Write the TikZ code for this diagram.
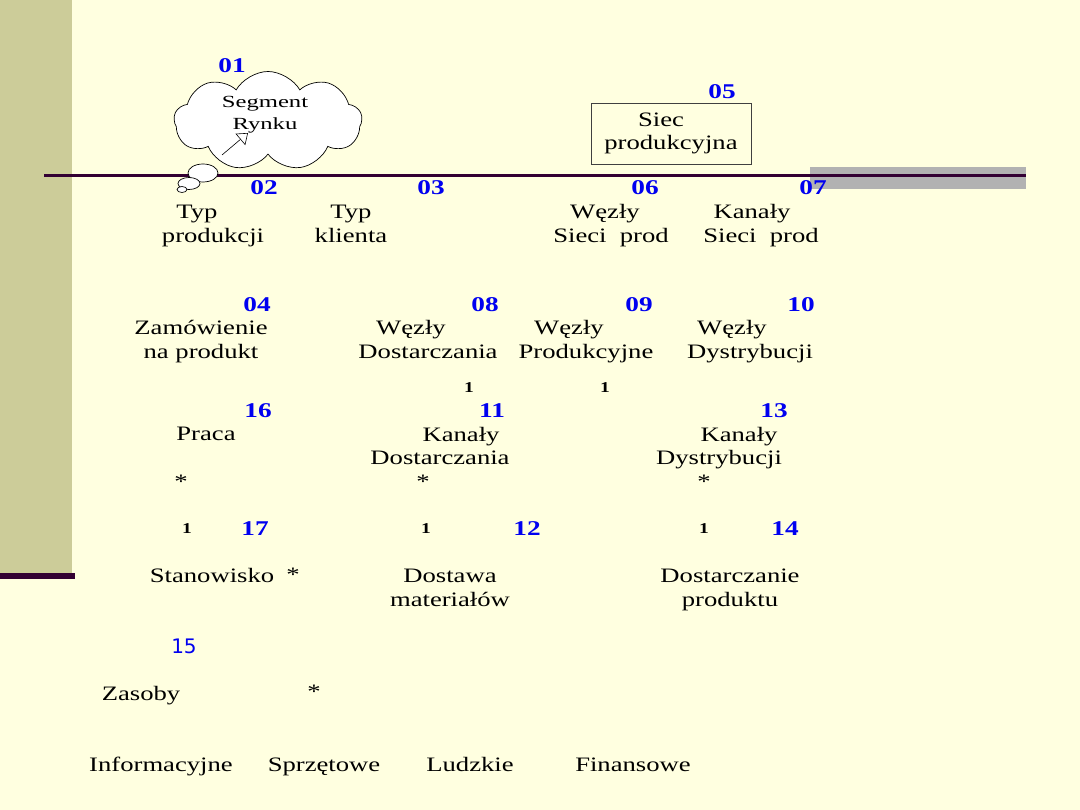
\documentclass[tikz,border=0pt]{standalone}
\usepackage{fontspec}
\setmainfont{Liberation Serif}[FakeStretch=1.3]
\newfontfamily\cloudfont{Liberation Serif}[FakeStretch=1.45]
\newfontfamily\sansnum{DejaVu Sans}
\usepackage{xcolor}
\usepackage{tikz}
\usetikzlibrary{shapes.symbols, arrows.meta}

\definecolor{tlo}{HTML}{FFFFE0}
\definecolor{pasek}{HTML}{CCCC99}
\definecolor{fiolet}{HTML}{330033}
\definecolor{szary}{HTML}{B2B2B2}
\definecolor{nrblue}{HTML}{0000F0}

\newcommand{\tail}[1]{\rule{#1}{0pt}}

% base = linia bazowa ostatniego wiersza
\tikzset{
  txt/.style={inner sep=0pt, align=center, anchor=base, font=\fontsize{20.5}{23.5}\selectfont},
  nr/.style={inner sep=0pt, font=\fontsize{21}{24}\selectfont\bfseries, text=nrblue},
  jeden/.style={inner sep=0pt, font=\fontsize{15}{18}\selectfont\bfseries},
  gw/.style={inner sep=0pt, font=\fontsize{20.5}{24}\selectfont},
}

\begin{document}
\begin{tikzpicture}[x=1pt, y=-1pt, >=latex]
    % tło slajdu
    \fill[tlo] (0,0) rectangle (1080,810);
    \fill[pasek] (0,0) rectangle (72,575);
    \fill[fiolet] (0,573) rectangle (75,579);
    
    % linia pozioma
    \fill[szary] (810,167) rectangle (1026,189);
    \draw[fiolet, line width=3pt] (44,176) -- (1026,176);
    
    % chmurka: Segment Rynku
    \node[nr] (n01) at (232,66) {01};
    \node[cloud, draw, fill=white, line width=0.7pt, cloud puffs=9, cloud puff arc=120,
          cloud ignores aspect, minimum width=188pt, minimum height=99pt, inner sep=0pt]
          (chmura) at (268,121) {};
    \draw[fill=white, line width=0.7pt] (203,173) ellipse [x radius=15pt, y radius=9pt];
    \draw[fill=white, line width=0.7pt] (189,183.5) ellipse [x radius=11pt, y radius=6pt];
    \draw[fill=white, line width=0.7pt] (182,189.5) ellipse [x radius=5pt, y radius=3pt];
    \node[inner sep=0pt, align=center, font=\cloudfont\fontsize{17}{22}\selectfont]
          (segment) at (265,115) {Segment\\Rynku};
    \coordinate (strz1) at (222,155);
    \coordinate (strz2) at (248,133);
    \draw[-{Triangle[open, length=10pt, width=15pt]}, line width=0.6pt] (strz1) -- (strz2);
    
    % Siec produkcyjna
    \node[nr] (n05) at (722,92) {05};
    \node[txt, anchor=center, draw=black!75, line width=0.7pt, minimum width=160pt, minimum height=61pt]
          (siec) at (671,133.5) {Siec\tail{20pt}\\produkcyjna};
    
    % pod linią
    \node[nr] (n02) at (264,188) {02};
    \node[nr] (n03) at (431,188) {03};
    \node[nr] (n06) at (645,188) {06};
    \node[nr] (n07) at (813,188) {07};
    \node[txt] (typprod) at (213,242.5) {Typ\tail{32pt}\\produkcji};
    \node[txt] (typkl) at (351,242.5) {Typ\\klienta};
    \node[txt] (wezsieci) at (611,242.5) {Węzły\tail{12pt}\\Sieci\ \ prod};
    \node[txt] (kansieci) at (761,242.5) {Kanały\tail{18pt}\\Sieci\ \ prod};
    
    % węzły
    \node[nr] (n04) at (257,305) {04};
    \node[nr] (n08) at (485,305) {08};
    \node[nr] (n09) at (639,305) {09};
    \node[nr] (n10) at (801,305) {10};
    \node[txt] (zamow) at (201,358.5) {Zamówienie\\na produkt};
    \node[txt] (wezdost) at (428,358.5) {Węzły\tail{34pt}\\Dostarczania};
    \node[txt] (wezprod) at (586,358.5) {Węzły\tail{34pt}\\Produkcyjne};
    \node[txt] (wezdys) at (750,358.5) {Węzły\tail{36pt}\\Dystrybucji};
    \node[jeden] (j1) at (469,388) {1};
    \node[jeden] (j2) at (605,388) {1};
    
    % kanały
    \node[nr] (n16) at (258,411) {16};
    \node[nr] (n11) at (492,411) {11};
    \node[nr] (n13) at (774,411) {13};
    \node[txt] (praca) at (206,441) {Praca};
    \node[txt] (kandost) at (440,464.5) {\tail{42pt}Kanały\\Dostarczania};
    \node[txt] (kandys) at (719,464.5) {\tail{40pt}Kanały\\Dystrybucji};
    \node[gw] (g1) at (181,482) {*};
    \node[gw] (g2) at (423,482) {*};
    \node[gw] (g3) at (704,482) {*};
    
    % stanowisko, dostawa, dostarczanie
    \node[jeden] (j3) at (187,529) {1};
    \node[jeden] (j4) at (426,529) {1};
    \node[jeden] (j5) at (704,529) {1};
    \node[nr] (n17) at (255,529) {17};
    \node[nr] (n12) at (527,529) {12};
    \node[nr] (n14) at (785,529) {14};
    \node[txt] (stanow) at (212,582.7) {Stanowisko};
    \node[gw] (g4) at (293,575) {*};
    \node[txt] (dostawa) at (450,606.2) {Dostawa\\materiałów};
    \node[txt] (dostprod) at (730,606.2) {Dostarczanie\\produktu};
    
    % zasoby
    \node[inner sep=0pt, font=\sansnum\fontsize{20}{24}\selectfont, text=nrblue] (n15) at (184,646) {15};
    \node[txt] (zasoby) at (141,700) {Zasoby};
    \node[gw] (g5) at (314,692) {*};
    \node[txt] (inform) at (161,771.7) {Informacyjne};
    \node[txt] (sprzet) at (324,771.7) {Sprzętowe};
    \node[txt] (ludzkie) at (470,771.7) {Ludzkie};
    \node[txt] (finans) at (633,771.7) {Finansowe};
\end{tikzpicture}
\end{document}
